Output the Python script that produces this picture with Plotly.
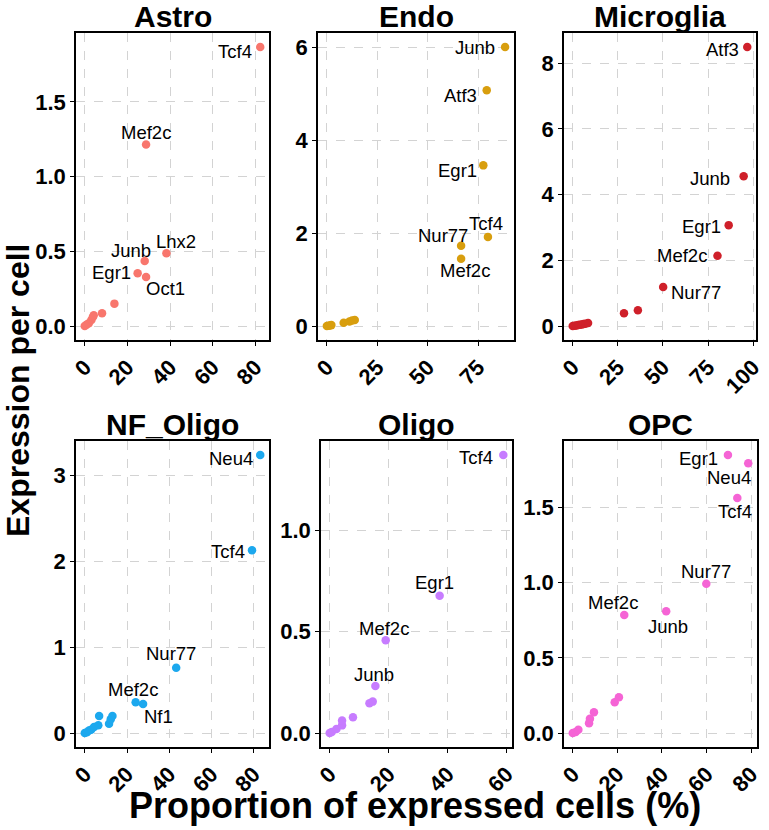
import plotly.graph_objects as go

W, H = 769, 830

panels = ['Astro', 'Endo', 'Microglia', 'NF_Oligo', 'Oligo', 'OPC']
colors = ['#F8766D', '#D89E0E', '#CF202A', '#1CA8EE', '#C77CFF', '#F564D5']

# proportion of expressed cells (%) / expression per cell / gene label
astro_x = [0, 0.8, 1.9, 3.1, 3.8, 4.2, 8.1, 13.9, 24.8, 28.1, 28.75, 38.3, 28.75, 82.3]
astro_y = [0, 0.008, 0.018, 0.04, 0.06, 0.072, 0.085, 0.15, 0.353, 0.436, 0.329, 0.488, 1.215, 1.868]
astro_gene = ['', '', '', '', '', '', '', '', 'Egr1', 'Junb', 'Oct1', 'Lhx2', 'Mef2c', 'Tcf4']

endo_x = [0, 0.8, 1.5, 2.2, 8.3, 11.2, 12.5, 13.8, 66.5, 66.5, 79.8, 77.5, 79.2, 88.3]
endo_y = [0, 0.005, 0.01, 0.02, 0.07, 0.1, 0.12, 0.13, 1.45, 1.73, 1.92, 3.46, 5.08, 6.01]
endo_gene = ['', '', '', '', '', '', '', '', 'Mef2c', 'Nur77', 'Tcf4', 'Egr1', 'Atf3', 'Junb']

micro_x = [0, 1, 2, 3, 4, 5, 6, 7, 8.5, 28.4, 36.1, 50.1, 80.2, 86.4, 94.7, 96.7]
micro_y = [0, 0.01, 0.02, 0.03, 0.04, 0.05, 0.06, 0.07, 0.09, 0.39, 0.48, 1.19, 2.14, 3.07, 4.56, 8.49]
micro_gene = ['', '', '', '', '', '', '', '', '', '', '', 'Nur77', 'Mef2c', 'Egr1', 'Junb', 'Atf3']

nfo_x = [0, 1, 2, 3, 4.4, 6.4, 6.8, 11.5, 12.3, 13.1, 24.1, 27.6, 43.3, 79.2, 83.1]
nfo_y = [0, 0.01, 0.03, 0.04, 0.07, 0.09, 0.2, 0.11, 0.16, 0.2, 0.36, 0.34, 0.76, 2.13, 3.24]
nfo_gene = ['', '', '', '', '', '', '', '', '', '', 'Mef2c', 'Nf1', 'Nur77', 'Tcf4', 'Neu4']

oligo_x = [0, 0.7, 2.3, 4.2, 4.2, 7.9, 13.5, 14.6, 15.5, 19.0, 37.3, 58.9]
oligo_y = [0, 0.005, 0.02, 0.038, 0.062, 0.078, 0.147, 0.155, 0.232, 0.457, 0.676, 1.37]
oligo_gene = ['', '', '', '', '', '', '', '', 'Junb', 'Mef2c', 'Egr1', 'Tcf4']

opc_x = [0, 1.3, 2.5, 7.3, 7.7, 9.5, 18.8, 20.7, 23.1, 41.9, 59.9, 73.8, 78.7, 69.6]
opc_y = [0, 0.007, 0.022, 0.066, 0.095, 0.139, 0.205, 0.238, 0.786, 0.81, 0.993, 1.563, 1.795, 1.85]
opc_gene = ['', '', '', '', '', '', '', '', 'Mef2c', 'Junb', 'Nur77', 'Tcf4', 'Neu4', 'Egr1']

xs = [astro_x, endo_x, micro_x, nfo_x, oligo_x, opc_x]
ys = [astro_y, endo_y, micro_y, nfo_y, oligo_y, opc_y]
genes = [astro_gene, endo_gene, micro_gene, nfo_gene, oligo_gene, opc_gene]

x_ticks = [[0, 20, 40, 60, 80], [0, 25, 50, 75], [0, 25, 50, 75, 100],
           [0, 20, 40, 60, 80], [0, 20, 40, 60], [0, 20, 40, 60, 80]]
y_ticks = [[0, 0.5, 1.0, 1.5], [0, 2, 4, 6], [0, 2, 4, 6, 8],
           [0, 1, 2, 3], [0, 0.5, 1.0], [0, 0.5, 1.0, 1.5]]
y_ticktext = [['0.0', '0.5', '1.0', '1.5'], ['0', '2', '4', '6'], ['0', '2', '4', '6', '8'],
              ['0', '1', '2', '3'], ['0.0', '0.5', '1.0'], ['0.0', '0.5', '1.0', '1.5']]

# label offsets (px) from point to text centre, like ggrepel
label_off = [
    {'Tcf4': (-25, 5), 'Mef2c': (0, -12), 'Lhx2': (10, -12), 'Junb': (-14, -10), 'Egr1': (-26, -1), 'Oct1': (19, 12)},
    {'Junb': (-30, 1), 'Atf3': (-26, 5), 'Egr1': (-26, 5), 'Tcf4': (-2, -13), 'Nur77': (-18, -10), 'Mef2c': (4, 12)},
    {'Atf3': (-25, 3), 'Junb': (-34, 2), 'Egr1': (-27, 1), 'Mef2c': (-35, 0), 'Nur77': (33, 6)},
    {'Neu4': (-29, 4), 'Tcf4': (-24, 1), 'Nur77': (-5, -14), 'Mef2c': (-3, -13), 'Nf1': (15, 13)},
    {'Tcf4': (-27, 3), 'Egr1': (-5, -13), 'Mef2c': (-2, -12), 'Junb': (-1, -11)},
    {'Egr1': (-29, 4), 'Neu4': (-19, 14), 'Tcf4': (-2, 13), 'Nur77': (0, -12), 'Mef2c': (-11, -12), 'Junb': (2, 15)},
]

# plot area boxes in pixels: left, right, top, bottom
boxes = [(76, 269, 33, 340), (318, 514, 33, 340), (564, 756, 33, 340),
         (76, 269, 441, 747), (321, 512, 441, 747), (564, 757, 441, 747)]


def px(x):
    return x / W


def py(y):
    return 1 - y / H


FONT = 'Liberation Sans, Arial, sans-serif'

fig = go.Figure()
layout = {}
annotations = []

for i, name in enumerate(panels):
    n = '' if i == 0 else str(i + 1)
    xa, ya = 'x' + n, 'y' + n
    fig.add_trace(go.Scatter(x=xs[i], y=ys[i], mode='markers', xaxis=xa, yaxis=ya,
                             marker=dict(color=colors[i], size=8.5, line=dict(width=0)),
                             showlegend=False, hoverinfo='skip'))
    l, r, t, b = boxes[i]
    xmin, xmax = min(xs[i]), max(xs[i])
    ymin, ymax = min(ys[i]), max(ys[i])
    dx = (xmax - xmin) * 0.05
    dy = (ymax - ymin) * 0.05
    common = dict(showline=True, linecolor='black', linewidth=1.5, mirror=True,
                  ticks='outside', ticklen=4, tickcolor='black', tickwidth=1.2,
                  showgrid=True, gridcolor='#d3d3d3', gridwidth=1.2, griddash='dash',
                  zeroline=False, automargin=False,
                  tickfont=dict(family=FONT, size=22, color='black', weight='bold'))
    layout['xaxis' + n] = dict(common, domain=[px(l), px(r)], anchor=ya,
                               range=[xmin - dx, xmax + dx], tickvals=x_ticks[i],
                               tickangle=-45)
    layout['yaxis' + n] = dict(common, domain=[py(b), py(t)], anchor=xa,
                               range=[ymin - dy, ymax + dy], tickvals=y_ticks[i],
                               ticktext=y_ticktext[i])
    for gx, gy, g in zip(xs[i], ys[i], genes[i]):
        if not g:
            continue
        ox, oy = label_off[i][g]
        annotations.append(dict(x=gx, y=gy, xref=xa, yref=ya, text=g, showarrow=True,
                                arrowcolor='rgba(0,0,0,0)', ax=ox, ay=oy,
                                font=dict(family=FONT, size=18.5, color='black')))
    annotations.append(dict(x=px((l + r) / 2), y=py(t - 17), xref='paper', yref='paper',
                            text='<b>' + name + '</b>', showarrow=False,
                            xanchor='center', yanchor='middle',
                            font=dict(family=FONT, size=30, color='black')))

annotations.append(dict(x=px(18), y=py(391), xref='paper', yref='paper',
                        text='<b>Expression per cell</b>', textangle=-90, showarrow=False,
                        xanchor='center', yanchor='middle',
                        font=dict(family=FONT, size=32, color='black')))
annotations.append(dict(x=px(415), y=py(805), xref='paper', yref='paper',
                        text='<b>Proportion of expressed cells (%)</b>', showarrow=False,
                        xanchor='center', yanchor='middle',
                        font=dict(family=FONT, size=36, color='black')))

fig.update_layout(**layout)
fig.update_layout(width=W, height=H, margin=dict(l=0, r=0, t=0, b=0),
                  paper_bgcolor='white', plot_bgcolor='white',
                  annotations=annotations)

# drop the default 8px body margin so the figure fills the window
fig.write_html("out.html", config={'displayModeBar': False},
               post_script="document.body.style.margin='0';")
